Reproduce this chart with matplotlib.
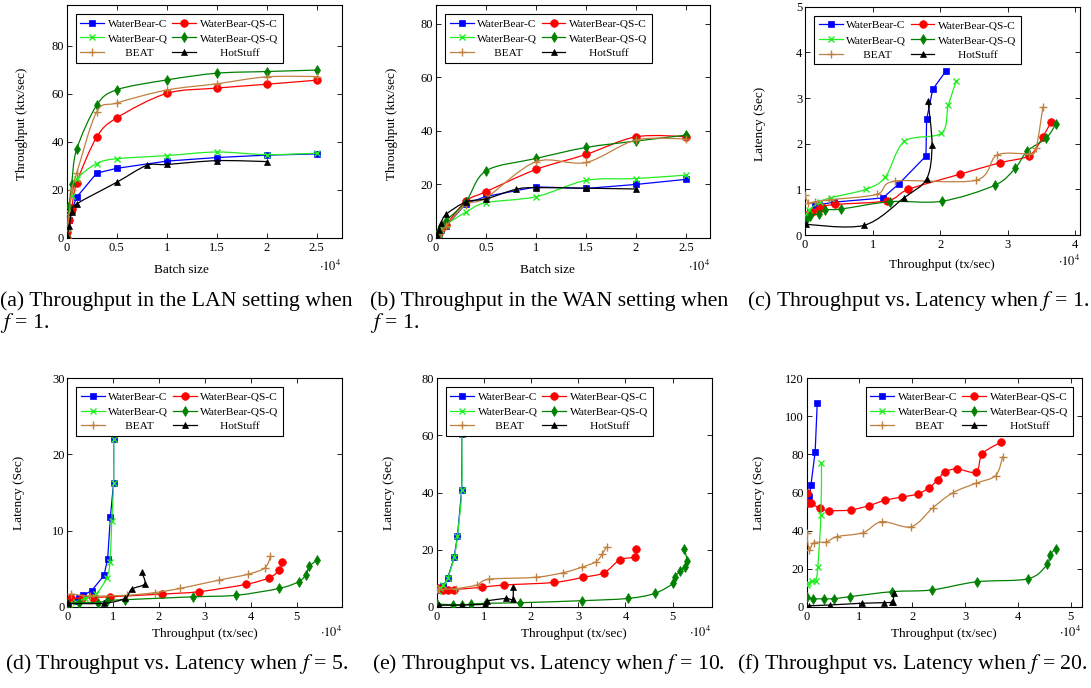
import numpy as np
import matplotlib
matplotlib.use('Agg')
import matplotlib.pyplot as plt
from matplotlib.path import Path
from matplotlib.patches import PathPatch
from matplotlib.lines import Line2D

plt.rcParams['font.family'] = ['Liberation Serif', 'DejaVu Serif']
plt.rcParams['mathtext.fontset'] = 'stix'

# ---------------- data ----------------
# (a) LAN throughput vs batch size (batch size in units of 1e4, throughput ktx/s)
batch = [0, 0.005, 0.025, 0.05, 0.1, 0.3, 0.5, 1, 1.5, 2, 2.5]
a_wbc = [0, 2.5, 7.5, 11.5, 17, 27, 29, 32, 33.5, 34.5, 35]
a_qsc = [0, 2.5, 7.5, 12, 23, 42, 50, 60.2, 62.4, 64, 65.7]
a_wbq = [0, 4, 12, 17.5, 24.5, 31, 33, 34.3, 35.8, 34.7, 35.3]
a_qsq = [0, 4.5, 13.3, 22.6, 37, 55.3, 61.7, 65.8, 68.6, 69.3, 69.9]
a_beat = [0, 3, 10, 20, 27, 52.5, 56.2, 61.6, 64.2, 67.1, 67.2]
a_hs_x = [0, 0.005, 0.025, 0.05, 0.1, 0.5, 0.8, 1, 1.5, 2]
a_hs = [0, 1, 5, 11, 14.2, 23.2, 30.2, 30.6, 32.2, 31.8]

# (b) WAN throughput vs batch size
b_wbc = [0, 0.5, 1.5, 3, 4.5, 12.8, 15.5, 19.1, 18.5, 20, 21.9]
b_qsc = [0, 0.8, 2, 3.5, 5, 13.8, 17.3, 25.6, 31.2, 37.8, 37.8]
b_wbq = [0, 0.5, 1.5, 3, 5, 9.7, 13.2, 15.4, 21.5, 22.2, 23.5]
b_qsq = [0, 1, 2.5, 4, 6.5, 13.6, 25.1, 29.7, 33.8, 36.2, 38.4]
b_beat = [0, 0.5, 1.5, 3, 4.5, 12.5, 15, 28.5, 28.2, 36.6, 36.9]
b_hs_x = [0, 0.005, 0.025, 0.05, 0.1, 0.3, 0.5, 0.8, 1, 1.5, 2]
b_hs = [0, 1, 3, 5.5, 8.8, 13.5, 14.6, 18.2, 18.8, 18.6, 18.3]

# (c) f = 1 : throughput (1e4 tx/s) vs latency (s)
c_wbc_x = [0.01, 0.07, 0.15, 0.2, 0.43, 1.15, 1.39, 1.79, 1.80, 1.89, 2.09]
c_wbc_y = [0.44, 0.51, 0.66, 0.66, 0.72, 0.81, 1.12, 1.73, 2.53, 3.19, 3.60]
c_qsc_x = [0.02, 0.1, 0.2, 0.25, 0.45, 1.22, 1.53, 2.29, 2.88, 3.32, 3.52, 3.64]
c_qsc_y = [0.44, 0.5, 0.57, 0.62, 0.67, 0.75, 1.0, 1.33, 1.58, 1.74, 2.15, 2.48]
c_wbq_x = [0.02, 0.06, 0.22, 0.39, 0.9, 1.19, 1.47, 2.02, 2.12, 2.24]
c_wbq_y = [0.42, 0.55, 0.72, 0.82, 1.0, 1.27, 2.05, 2.23, 2.84, 3.37]
c_qsq_x = [0.02, 0.08, 0.2, 0.3, 0.54, 1.26, 2.03, 2.81, 3.11, 3.29, 3.57, 3.71]
c_qsq_y = [0.33, 0.42, 0.47, 0.55, 0.57, 0.73, 0.74, 1.09, 1.46, 1.84, 2.12, 2.43]
c_beat_x = [0.0, 0.05, 0.15, 0.35, 1.06, 1.33, 2.53, 2.84, 3.32, 3.42, 3.52]
c_beat_y = [0.88, 0.71, 0.73, 0.77, 0.89, 1.18, 1.2, 1.75, 1.78, 1.9, 2.8]
c_hs_x = [0.01, 0.87, 1.47, 1.80, 1.88, 1.82]
c_hs_y = [0.24, 0.21, 0.82, 1.23, 1.97, 2.93]

# (d) f = 5
d_wbc_x = [0.02, 0.2, 0.25, 0.35, 0.53, 0.8, 0.88, 0.94, 1.01, 1.01]
d_wbc_y = [0.3, 0.8, 1.2, 1.5, 2.1, 4.1, 6.3, 11.8, 16.3, 22.0]
d_qsc_x = [0.09, 0.33, 0.55, 0.93, 2.07, 2.87, 3.89, 4.40, 4.62, 4.69]
d_qsc_y = [1.1, 1.1, 1.2, 1.3, 1.66, 1.97, 2.93, 3.8, 4.8, 5.9]
d_wbq_x = [0.03, 0.2, 0.38, 0.63, 0.86, 0.93, 0.97, 1.01, 1.01]
d_wbq_y = [0.3, 0.6, 1.1, 1.7, 3.8, 5.9, 11.3, 16.3, 22.0]
d_qsq_x = [0.02, 0.25, 0.68, 0.86, 1.26, 2.75, 3.68, 4.62, 5.05, 5.2, 5.28, 5.44]
d_qsq_y = [0.3, 0.55, 0.55, 0.8, 0.92, 1.3, 1.5, 2.4, 3.3, 4.2, 5.3, 6.1]
d_beat_x = [0.07, 0.5, 1.3, 1.91, 2.46, 3.31, 3.93, 4.31, 4.43]
d_beat_y = [1.7, 1.4, 1.5, 1.85, 2.4, 3.5, 4.25, 5.1, 6.6]
d_hs_x = [0.02, 0.79, 1.26, 1.40, 1.69, 1.62]
d_hs_y = [0.44, 0.44, 1.1, 2.3, 3.0, 4.5]

# (e) f = 10
e_wbc_x = [0.03, 0.07, 0.13, 0.23, 0.37, 0.44, 0.53, 0.53]
e_wbc_y = [5.8, 6.5, 7.2, 9.9, 17.3, 24.8, 40.9, 60.5]
e_qsc_x = [0.03, 0.14, 0.23, 0.37, 0.95, 1.43, 2.49, 3.11, 3.55, 3.88, 4.2, 4.22]
e_qsc_y = [6.4, 6.0, 6.0, 6.0, 6.8, 7.6, 8.5, 10.3, 11.9, 16.4, 17.5, 20.1]
e_wbq_x = [0.03, 0.08, 0.13, 0.23, 0.37, 0.44, 0.53, 0.53]
e_wbq_y = [5.5, 6.5, 7.5, 9.9, 17.3, 24.8, 40.9, 60.5]
e_qsq_x = [0.015, 0.35, 0.54, 0.73, 1.05, 1.77, 3.07, 4.06, 4.63, 5.01, 5.05, 5.16, 5.26, 5.31, 5.25]
e_qsq_y = [0.9, 0.7, 0.6, 0.9, 1.2, 1.4, 2.1, 2.9, 4.7, 8.2, 10.5, 12.5, 14, 16, 20.1]
e_beat_x = [0.03, 0.4, 0.85, 1.1, 2.1, 2.68, 3.07, 3.38, 3.51, 3.6]
e_beat_y = [6.1, 6.3, 7.6, 9.6, 10.3, 11.9, 13.8, 15.8, 18.5, 21]
e_hs_x = [0.05, 0.53, 1.02, 1.07, 1.47, 1.61, 1.62]
e_hs_y = [0.5, 0.6, 0.9, 2.0, 2.9, 2.6, 6.9]

# (f) f = 20
f_wbc_x = [0.01, 0.05, 0.08, 0.16, 0.2]
f_wbc_y = [56, 57.8, 63.8, 81.3, 107.2]
f_qsc_x = [0.01, 0.02, 0.08, 0.25, 0.42, 0.83, 1.18, 1.48, 1.8, 2.1, 2.32, 2.48, 2.62, 2.85, 3.21, 3.33, 3.69]
f_qsc_y = [59.6, 54.3, 54.3, 51.7, 50.5, 50.8, 53.1, 55.9, 57.6, 59.2, 62.5, 66.6, 70.8, 72.4, 70.8, 80.4, 86.5]
f_wbq_x = [0.01, 0.03, 0.1, 0.17, 0.21, 0.27, 0.28]
f_wbq_y = [11.5, 12.3, 13.7, 13.7, 20.7, 48.2, 75.3]
f_qsq_x = [0.0, 0.11, 0.32, 0.52, 0.82, 1.62, 2.37, 3.22, 4.2, 4.56, 4.6, 4.72]
f_qsq_y = [5.3, 4.2, 4.2, 4.2, 5.3, 7.9, 8.8, 13.1, 14.7, 22.4, 27, 30.5]
f_beat_x = [0.0, 0.05, 0.13, 0.37, 0.57, 1.07, 1.42, 1.98, 2.39, 2.77, 3.2, 3.58, 3.71]
f_beat_y = [38.5, 29.8, 33.6, 34, 36.8, 38.9, 44.7, 42, 52, 59.9, 64.8, 68.9, 78.8]
f_hs_x = [0.04, 0.44, 1.04, 1.47, 1.61, 1.64, 1.65]
f_hs_y = [0.5, 0.9, 1.8, 2.1, 2.3, 2.6, 7.0]

labels = ['WaterBear-C', 'WaterBear-QS-C', 'WaterBear-Q', 'WaterBear-QS-Q', 'BEAT', 'HotStuff']
captions = [
    ['(a) Throughput in the LAN setting when', '$f$ = 1.'],
    ['(b) Throughput in the WAN setting when', '$f$ = 1.'],
    ['(c) Throughput vs. Latency when $f$ = 1.'],
    ['(d) Throughput vs. Latency when $f$ = 5.'],
    ['(e) Throughput vs. Latency when $f$ = 10.'],
    ['(f) Throughput vs. Latency when $f$ = 20.'],
]

# ---------------- style ----------------
LW = 0.9
STY = {
    'WaterBear-C': dict(color='#0000ff', marker='s', ms=5.0, mfc='#0000ff', smooth=False),
    'WaterBear-QS-C': dict(color='#ff0000', marker='o', ms=5.5, mfc='#ff0000', smooth=True),
    'WaterBear-Q': dict(color='#22ee22', marker='x', ms=4.0, mfc='#22ee22', smooth=True),
    'WaterBear-QS-Q': dict(color='#008000', marker='d', ms=5.0, mfc='#008000', smooth=True),
    'BEAT': dict(color='#bf8040', marker='+', ms=5.5, mfc='#bf8040', smooth=True),
    'HotStuff': dict(color='#000000', marker='^', ms=5.0, mfc='#000000', smooth=True),
}

W, H = 1091, 688
fig = plt.figure(figsize=(W / 100, H / 100), dpi=100)


def add_ax(x0, y0, x1, y1):
    return fig.add_axes([x0 / W, 1 - y1 / H, (x1 - x0) / W, (y1 - y0) / H])


def smooth_path(xs, ys, k=0.16):
    pts = np.column_stack([xs, ys]).astype(float)
    n = len(pts)
    tang = np.zeros_like(pts)
    for i in range(1, n - 1):
        tang[i] = (pts[i + 1] - pts[i - 1]) * k
    verts = [pts[0]]
    codes = [Path.MOVETO]
    for i in range(n - 1):
        verts += [pts[i] + tang[i], pts[i + 1] - tang[i + 1], pts[i + 1]]
        codes += [Path.CURVE4] * 3
    return Path(verts, codes)


def draw(ax, xs, ys, key, z):
    st = STY[key]
    if st['smooth'] and len(xs) > 2:
        ax.add_patch(PathPatch(smooth_path(xs, ys), fill=False, edgecolor=st['color'],
                               lw=LW, zorder=z, capstyle='round', joinstyle='round'))
    else:
        ax.plot(xs, ys, color=st['color'], lw=LW, zorder=z)
    ax.plot(xs, ys, ls='none', marker=st['marker'], ms=st['ms'], mfc=st['mfc'],
            mec=st['color'], mew=1.0 if st['marker'] in 'x+' else 0.5, zorder=z + 0.5)


def handles():
    hs = []
    for k in labels:
        st = STY[k]
        hs.append(Line2D([], [], color=st['color'], lw=LW, marker=st['marker'], ms=st['ms'],
                         mfc=st['mfc'], mec=st['color'],
                         mew=1.0 if st['marker'] in 'x+' else 0.5))
    return hs


def legend(ax, loc):
    h = handles()
    order = [0, 2, 4, 1, 3, 5]
    txt = {4: '      BEAT', 5: '       HotStuff'}
    hl = [h[i] for i in order]
    ll = [txt.get(i, labels[i]) for i in order]
    lg = ax.legend(hl, ll, ncol=2, loc=loc, fontsize=8.2, numpoints=1, frameon=True,
                   fancybox=False, framealpha=1, edgecolor='black', handlelength=2.1,
                   handletextpad=0.3, columnspacing=0.4, labelspacing=0.42,
                   borderpad=0.4, borderaxespad=0.8)
    lg.get_frame().set_linewidth(0.8)


def style_ax(ax, xlim, ylim, xt, yt, xtl=None):
    ax.set_xlim(*xlim)
    ax.set_ylim(*ylim)
    ax.set_xticks(xt)
    ax.set_yticks(yt)
    if xtl is not None:
        ax.set_xticklabels(xtl)
    ax.tick_params(direction='in', top=True, right=True, length=3.5, width=0.6,
                   labelsize=9, pad=3)
    ax.tick_params(axis='y', pad=2)
    for s in ax.spines.values():
        s.set_linewidth(0.8)


def plot_all(ax, data):
    for z, (key, (xs, ys)) in enumerate(zip(labels, data)):
        draw(ax, xs, ys, key, 2 + z)


# (a)
ax = add_ax(66.7, 5, 341.7, 238)
plot_all(ax, [(batch, a_wbc), (batch, a_qsc), (batch, a_wbq), (batch, a_qsq),
              (batch, a_beat), (a_hs_x, a_hs)])
style_ax(ax, (0, 2.75), (0, 97), [0, 0.5, 1, 1.5, 2, 2.5], [0, 20, 40, 60, 80],
         ['0', '0.5', '1', '1.5', '2', '2.5'])
legend(ax, 'upper left')

# (b)
ax = add_ax(436, 5, 710, 238)
plot_all(ax, [(batch, b_wbc), (batch, b_qsc), (batch, b_wbq), (batch, b_qsq),
              (batch, b_beat), (b_hs_x, b_hs)])
style_ax(ax, (0, 2.74), (0, 87), [0, 0.5, 1, 1.5, 2, 2.5], [0, 20, 40, 60, 80],
         ['0', '0.5', '1', '1.5', '2', '2.5'])
legend(ax, 'upper left')

# (c)
ax = add_ax(805, 6.7, 1080, 235)
plot_all(ax, [(c_wbc_x, c_wbc_y), (c_qsc_x, c_qsc_y), (c_wbq_x, c_wbq_y),
              (c_qsq_x, c_qsq_y), (c_beat_x, c_beat_y), (c_hs_x, c_hs_y)])
style_ax(ax, (0, 4.07), (0, 5), [0, 1, 2, 3, 4], [0, 1, 2, 3, 4, 5])
legend(ax, 'upper left')

# (d)
ax = add_ax(67.3, 378.3, 342, 606.7)
plot_all(ax, [(d_wbc_x, d_wbc_y), (d_qsc_x, d_qsc_y), (d_wbq_x, d_wbq_y),
              (d_qsq_x, d_qsq_y), (d_beat_x, d_beat_y), (d_hs_x, d_hs_y)])
style_ax(ax, (0, 5.99), (0, 30), [0, 1, 2, 3, 4, 5], [0, 10, 20, 30])
legend(ax, 'upper left')

# (e)
ax = add_ax(436.7, 378.3, 711.7, 606.7)
plot_all(ax, [(e_wbc_x, e_wbc_y), (e_qsc_x, e_qsc_y), (e_wbq_x, e_wbq_y),
              (e_qsq_x, e_qsq_y), (e_beat_x, e_beat_y), (e_hs_x, e_hs_y)])
style_ax(ax, (0, 5.83), (0, 80), [0, 1, 2, 3, 4, 5], [0, 20, 40, 60, 80])
legend(ax, 'upper left')

# (f)
ax = add_ax(806.7, 378.3, 1081.7, 606.7)
plot_all(ax, [(f_wbc_x, f_wbc_y), (f_qsc_x, f_qsc_y), (f_wbq_x, f_wbq_y),
              (f_qsq_x, f_qsq_y), (f_beat_x, f_beat_y), (f_hs_x, f_hs_y)])
style_ax(ax, (0, 5.21), (0, 120), [0, 1, 2, 3, 4, 5], [0, 20, 40, 60, 80, 100, 120])
legend(ax, 'upper right')


# ---------------- labels ----------------
def ftext(x, y, s, **kw):
    fig.text(x / W, 1 - y / H, s, **kw)


LBL = 9.5
# y labels
ftext(22, 124, 'Throughput (ktx/sec)', rotation=90, ha='center', va='center', fontsize=LBL)
ftext(392, 124, 'Throughput (ktx/sec)', rotation=90, ha='center', va='center', fontsize=LBL)
ftext(760, 124, 'Latency (Sec)', rotation=90, ha='center', va='center', fontsize=LBL)
ftext(19, 493, 'Latency (Sec)', rotation=90, ha='center', va='center', fontsize=LBL)
ftext(389, 493, 'Latency (Sec)', rotation=90, ha='center', va='center', fontsize=LBL)
ftext(759, 493, 'Latency (Sec)', rotation=90, ha='center', va='center', fontsize=LBL)
# x labels
ftext(181, 270, 'Batch size', ha='center', va='center', fontsize=LBL)
ftext(547, 270, 'Batch size', ha='center', va='center', fontsize=LBL)
ftext(942, 265, 'Throughput (tx/sec)', ha='center', va='center', fontsize=LBL)
ftext(205, 634, 'Throughput (tx/sec)', ha='center', va='center', fontsize=LBL)
ftext(574, 634, 'Throughput (tx/sec)', ha='center', va='center', fontsize=LBL)
ftext(944, 634, 'Throughput (tx/sec)', ha='center', va='center', fontsize=LBL)
# multipliers
for (x, y) in [(341, 266), (710, 266), (1080, 261), (342, 632), (711, 632), (1081, 632)]:
    ftext(x, y, r'$\cdot10^{4}$', ha='right', va='center', fontsize=9)

# captions
CAP = 15.7
ftext(0, 301, captions[0][0], ha='left', va='center', fontsize=CAP)
ftext(0, 323, captions[0][1], ha='left', va='center', fontsize=CAP)
ftext(370, 301, captions[1][0], ha='left', va='center', fontsize=CAP)
ftext(370, 323, captions[1][1], ha='left', va='center', fontsize=CAP)
ftext(747, 301, captions[2][0], ha='left', va='center', fontsize=CAP)
ftext(5, 664, captions[3][0], ha='left', va='center', fontsize=CAP)
ftext(372, 664, captions[4][0], ha='left', va='center', fontsize=CAP)
ftext(737, 664, captions[5][0], ha='left', va='center', fontsize=CAP)

fig.savefig('out.png', dpi=100)
